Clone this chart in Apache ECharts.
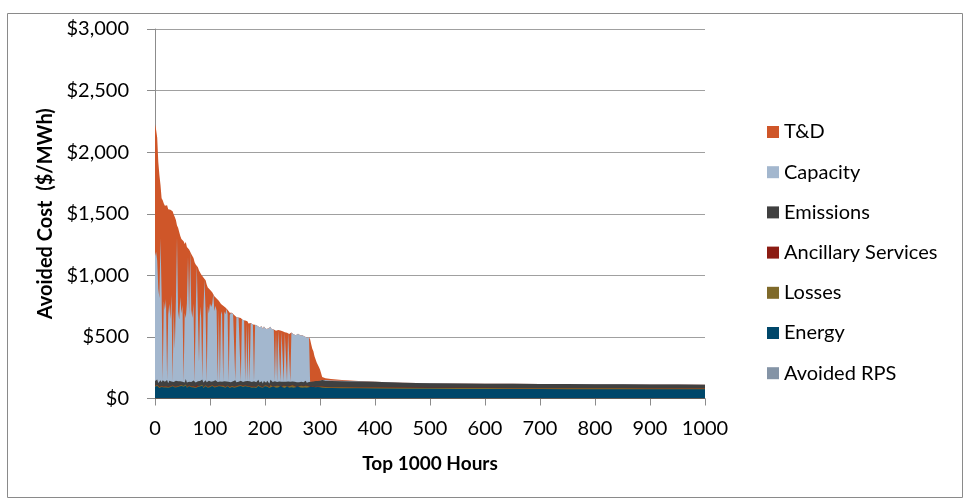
<!DOCTYPE html>
<html><head><meta charset="utf-8">
<script src="https://cdn.jsdelivr.net/npm/echarts@6/dist/echarts.min.js"></script>
<style>html,body{margin:0;padding:0;background:#fff}#c{width:969px;height:500px}</style>
</head><body><div id="c"></div>
<script>
// x positions (hour rank)
const hours = [0,2,4,6,8,10,12,14,16,18,20,22,24,26,28,30,32,34,36,38,40,42,44,46,48,50,52,54,56,58,60,62,64,66,68,70,72,74,76,78,80,82,84,86,88,90,92,94,96,98,
100,102,104,106,108,110,112,114,116,118,120,122,124,126,128,130,132,134,136,138,140,142,144,146,148,150,152,154,156,158,160,162,164,166,168,170,172,174,176,178,180,182,184,186,188,190,192,194,196,198,
200,202,204,206,208,210,212,214,216,218,220,222,224,226,228,230,232,234,236,238,240,242,244,246,248,250,252,254,256,258,260,262,264,266,268,270,272,274,276,278,280,282,284,286,288,290,292,294,296,298,
300,302,304,310,320,340,370,400,450,500,550,600,650,700,750,800,850,900,950,1000];

const avoidedRPS = [0,0,0,0,0,0,0,0,0,0,0,0,0,0,0,0,0,0,0,0,0,0,0,0,0,0,0,0,0,0,0,0,0,0,0,0,0,0,0,0,0,0,0,0,0,0,0,0,0,0,
0,0,0,0,0,0,0,0,0,0,0,0,0,0,0,0,0,0,0,0,0,0,0,0,0,0,0,0,0,0,0,0,0,0,0,0,0,0,0,0,0,0,0,0,0,0,0,0,0,0,
0,0,0,0,0,0,0,0,0,0,0,0,0,0,0,0,0,0,0,0,0,0,0,0,0,0,0,0,0,0,0,0,0,0,0,0,0,0,0,0,0,0,0,0,0,0,0,0,0,0,
0,0,0,0,0,0,0,0,0,0,0,0,0,0,0,0,0,0,0,0];

const energy = [96,88,102,91,85,99,93,104,89,95,90,101,87,97,92,84,100,94,89,103,91,86,98,93,101,88,95,90,104,87,
94,99,86,92,102,89,96,85,100,93,88,97,91,103,86,94,99,90,87,96,92,85,101,95,89,98,93,86,100,91,
97,88,94,102,87,92,99,90,85,96,93,100,88,95,91,86,98,92,101,89,94,87,99,91,96,85,93,100,88,95,
90,98,86,94,101,89,92,97,87,93,99,88,95,91,86,100,93,89,96,92,87,98,90,94,101,88,92,96,85,93,
99,90,87,95,92,100,88,94,91,86,97,92,89,95,88,93,90,96,87,94,91,88,95,89,93,86,92,90,94,88,
91,89,88,86,85,84,83,82,80,79,78,78,77,77,76,76,76,75,75,75];

const losses = [6,8,7,5,9,6,7,8,6,7,8,6,7,9,5,7,6,8,7,6,7,9,6,7,8,5,7,6,9,7,
6,7,8,6,7,9,5,7,8,6,9,6,7,8,6,7,8,5,7,7,7,8,6,7,9,6,7,8,6,8,
6,7,9,5,7,8,6,7,8,6,8,6,7,7,9,6,8,5,7,8,7,8,6,9,6,7,5,8,7,6,
6,9,7,6,8,7,6,9,5,7,8,6,8,7,6,9,7,6,8,7,7,5,7,8,7,6,9,7,6,8,
6,8,7,6,9,7,8,6,7,5,9,7,6,8,7,6,7,8,6,7,7,6,8,7,5,8,7,6,9,7,
7,8,8,7,7,7,7,7,7,7,7,7,7,7,7,7,7,7,7,7];

const ancillary = [2,1,2,3,1,2,2,1,3,2,1,2,2,1,3,2,1,2,2,1,2,3,1,2,2,1,2,3,1,2,
2,1,2,2,1,3,2,1,2,2,1,2,3,1,2,2,1,2,2,3,2,2,1,2,3,1,2,2,1,2,
3,1,2,2,1,2,3,1,2,2,1,2,2,3,1,2,2,1,2,3,2,1,3,2,2,1,2,2,3,1,
2,2,1,2,3,2,1,2,2,1,1,3,2,1,2,2,3,1,2,2,2,1,2,2,1,3,2,2,1,2,
3,2,1,2,2,1,2,3,2,1,2,2,3,1,2,2,1,2,2,3,1,2,2,2,3,1,2,1,2,2,
2,2,2,2,2,2,2,2,2,2,2,2,2,2,2,2,2,2,2,2];

const emissions = [38,30,44,27,35,41,29,36,46,31,33,42,28,37,31,45,34,29,40,35,30,43,32,38,27,41,35,30,44,33,
36,29,42,34,31,45,28,37,33,40,32,38,27,43,35,30,41,34,29,39,35,42,30,36,28,44,33,38,31,37,
29,41,34,31,45,36,30,39,33,28,40,32,37,43,30,35,29,42,34,38,31,44,33,28,39,36,41,30,35,32,
43,29,37,34,40,31,38,33,27,42,35,30,39,36,28,41,33,37,31,40,34,29,42,35,31,38,36,30,43,33,
28,39,35,32,41,30,37,34,29,40,36,31,38,33,42,30,35,39,32,37,34,40,31,36,38,33,41,35,37,43,
45,50,52,50,48,47,46,44,39,36,35,33,33,32,32,31,30,30,29,28];

const capacity = [1015,1065,965,765,685,1155,725,0,645,585,675,0,555,625,515,705,0,585,265,645,
1185,565,505,685,555,625,0,565,495,645,1015,545,1059,585,515,625,0,565,940,545,
165,605,525,0,585,833,565,0,625,545,637,606,630,713,581,604,577,0,585,0,
573,544,0,567,544,591,548,0,549,562,
555,549,543,0,531,525,520,515,0,505,501,496,0,488,0,480,0,473,470,466,
0,460,458,455,453,450,448,446,444,442,440,438,436,434,432,430,428,426,424,0,
420,0,416,414,0,410,408,0,403,400,0,396,394,0,391,389,387,386,384,383,
381,379,378,376,375,373,371,370,368,367,365,
0,0,0,0,0,0,0,0,0,0,0,0,
5,4,4,2,1,0,0,0,0,0,0,0,0,0,0,0,0];

const tAndD = [1070,990,1000,1030,1000,430,770,1460,795,845,748,1417,857,782,887,690,1380,775,1070,660,
90,680,710,495,602,522,1137,560,618,456,72,528,0,455,502,370,975,392,0,380,
745,290,354,865,268,0,246,795,152,216,110,130,95,0,120,85,100,666,70,644,
60,80,615,40,55,0,35,576,20,0,
0,0,0,537,0,0,0,0,510,0,0,0,492,0,484,0,477,0,0,0,
463,0,0,0,0,0,0,0,0,0,0,0,0,0,0,0,0,0,0,422,
0,418,0,0,412,0,0,405,0,0,398,0,0,393,0,0,0,0,0,0,
0,0,0,0,0,0,0,0,0,0,0,
345,305,270,245,215,185,160,140,115,90,55,25,
15,12,6,2,1,0,0,0,0,0,0,0,0,0,0,0,0];

const xTickLabels = ['0','100','200','300','400','500','600','700','800','900','1000'];
const yTickLabels = ['$0','$500','$1,000','$1,500','$2,000','$2,500','$3,000'];
const seriesNames = ['T&D','Capacity','Emissions','Ancillary Services','Losses','Energy','Avoided RPS'];
const seriesColors = ['#CF5629','#A3B7CE','#404040','#8C1C13','#7F6A2A','#00476A','#8494A6'];

// stack bottom-up
const layersBottomUp = [avoidedRPS, energy, losses, ancillary, emissions, capacity, tAndD];
const cumulative = [];
let running = hours.map(() => 0);
for (const layer of layersBottomUp) {
  running = running.map((v, i) => v + layer[i]);
  cumulative.push(running);
}

const font = 'Lato';
const series = seriesNames.map((name, k) => {
  const cum = cumulative[layersBottomUp.length - 1 - k];
  return {
    name, type: 'line', silent: true,
    data: hours.map((h, i) => [h, cum[i]]),
    symbol: 'none', showSymbol: false,
    lineStyle: { width: 0, opacity: 0 },
    itemStyle: { color: seriesColors[k] },
    areaStyle: { color: seriesColors[k], opacity: 1 },
    animation: false
  };
});

const chart = echarts.init(document.getElementById('c'), null, { renderer: 'canvas' });
chart.setOption({
  animation: false,
  backgroundColor: '#fff',
  grid: { left: 155, right: 264, top: 29, bottom: 101.5, containLabel: false },
  xAxis: {
    type: 'value', min: 0, max: 1000, interval: 100,
    name: 'Top 1000 Hours', nameLocation: 'middle', nameGap: 56,
    nameTextStyle: { fontFamily: font, fontWeight: 'bold', fontSize: 19, color: '#000' },
    axisLine: { show: true, lineStyle: { color: '#8C8C8C', width: 1 } },
    axisTick: { show: true, length: 7, lineStyle: { color: '#8C8C8C' } },
    axisLabel: { fontFamily: font, fontSize: 20, color: '#000', margin: 20,
      formatter: v => xTickLabels[Math.round(v / 100)] },
    splitLine: { show: false }
  },
  yAxis: {
    type: 'value', min: 0, max: 3000, interval: 500,
    name: 'Avoided Cost  ($/MWh)', nameLocation: 'middle', nameGap: 99,
    nameTextStyle: { fontFamily: font, fontWeight: 'bold', fontSize: 20, color: '#000' },
    axisLine: { show: true, lineStyle: { color: '#8C8C8C', width: 1 } },
    axisTick: { show: true, length: 8, lineStyle: { color: '#8C8C8C' } },
    axisLabel: { fontFamily: font, fontSize: 20, color: '#000', margin: 26,
      formatter: v => yTickLabels[Math.round(v / 500)] },
    splitLine: { show: true, lineStyle: { color: '#A0A0A0', width: 1 } }
  },
  legend: {
    orient: 'vertical', left: 762, top: 117,
    itemWidth: 12, itemHeight: 12, itemGap: 20.2, icon: 'rect',
    data: seriesNames,
    textStyle: { fontFamily: font, fontSize: 20, color: '#000', lineHeight: 20 }
  },
  graphic: [{
    type: 'rect', silent: true, z: -1,
    shape: { x: 7.5, y: 13.5, width: 955, height: 484 },
    style: { fill: 'none', stroke: '#8A8A8A', lineWidth: 1 }
  }],
  series
});
</script>
</body></html>
